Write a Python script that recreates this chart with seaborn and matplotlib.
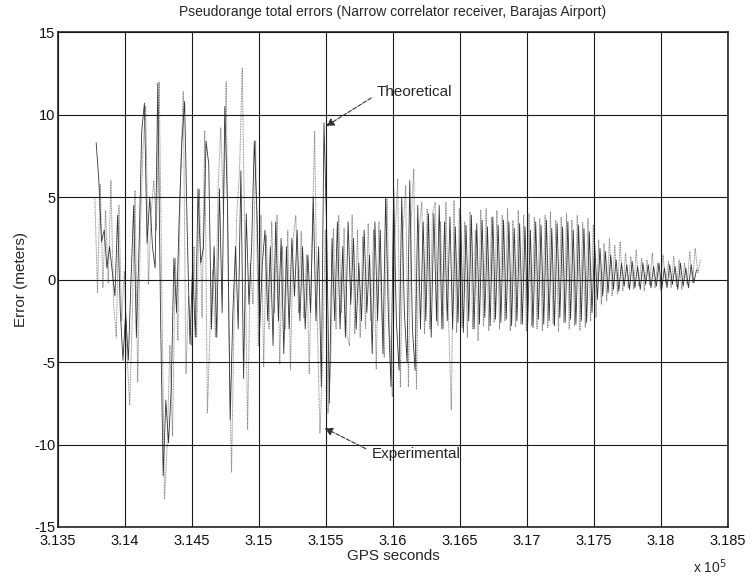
import matplotlib
matplotlib.use("Agg")
import matplotlib.pyplot as plt
import numpy as np
import pandas as pd
import seaborn as sns
from matplotlib.ticker import FuncFormatter

# ── Style ─────────────────────────────────────────────────────────────────────
sns.set_theme(style="white")
plt.rcParams["font.family"] = ["Liberation Sans", "DejaVu Sans"]
plt.rcParams["axes.unicode_minus"] = False

# ── Data ──────────────────────────────────────────────────────────────────────
T0_EXP = 313775      # first experimental epoch, GPS s
T0_THEO = 313785     # first theoretical epoch, GPS s
DT = 20              # sampling step, s

exp_err = [
    5.0, -0.8, 5.8, -0.5, 4.2, -0.2, 6.0, -1.5, -3.5, 4.5,
    -2.5, 0.5, -4.5, -7.6, -2.0, 5.4, -6.2, 3.0, 8.0, 10.5,
    -0.3, 4.0, 6.0, 3.0, 12.0, -0.5, -13.3, -10.0, -4.0, -9.5,
    1.3, -3.7, 6.5, 11.4, -5.7, -1.0, -4.0, 2.0, -3.5, 5.5,
    -2.3, 9.0, -8.1, -3.0, 0.6, -3.5, 5.5, 9.2, 4.0, 12.0,
    -2.9, -11.7, -2.0, 4.0, 6.6, 12.8, 2.0, -9.1, 1.0, -1.5,
    8.4, -4.0, 3.9, -5.3, 2.7, -3.0, 3.5, -2.0, 3.9, -5.1,
    2.0, -3.0, 3.0, -5.5, 2.5, 3.9, -2.0, 2.9, -2.3, 1.5,
    -5.7, 2.0, 9.0, -2.5, -9.3, -4.9, 3.0, -8.1, -5.0, 3.1,
    -3.0, 3.9, -2.0, 3.1, -3.3, -4.0, 3.9, -3.3, 3.0, -3.5,
    2.6, -3.0, 3.4, -2.5, 3.0, -5.4, 3.5, -2.0, -4.7, 4.9,
    -3.0, -7.1, 2.5, 6.1, -6.5, 3.0, 5.7, -6.5, 3.5, 6.7,
    -6.6, 3.0, 4.7, -3.3, 4.3, -3.0, 4.0, 4.7, -2.8, 3.5,
    -3.0, 4.7, -2.5, -7.9, 4.8, -3.2, 4.3, -2.9, 3.5, -3.5,
    4.1, -3.0, 3.0, -3.7, 4.2, -2.8, 4.3, -3.1, 3.8, -2.6,
    4.2, -3.0, 3.9, -2.5, 4.3, -3.1, 3.6, -2.9, 4.2, -2.7,
    3.9, -3.1, 4.0, -2.8, 3.8, -3.0, 3.7, -3.1, 3.9, -2.9,
    4.1, -2.7, 3.6, -3.2, 3.8, -2.6, 4.0, -3.0, 3.6, -2.8,
    3.9, -3.1, 3.5, -2.9, 3.7, -2.5, 3.3, -2.3, 2.4, -1.5,
    2.2, -1.3, 2.5, -1.0, 2.1, -0.9, 2.3, -0.7, 1.6, -0.5,
    1.4, -0.6, 1.8, -0.4, 1.3, -0.7, 1.2, -0.3, 1.6, -0.5,
    1.0, -0.6, 1.5, -0.2, 1.1, -0.5, 1.4, -0.4, 1.2, -0.6,
    1.0, -0.3, 1.7, -0.2, 1.9, 0.4, 1.2,
]

theo_err = [
    8.3, 6.0, 2.3, 3.0, 0.7, 2.0, 0.5, -1.0, 3.9, -1.9,
    -4.9, -2.0, -4.9, 0.0, 4.5, -3.5, 2.0, 9.0, 10.7, 2.2,
    5.0, 2.0, 0.7, 11.9, -2.0, -11.9, -7.3, -9.9, -6.7, 1.3,
    -2.0, 3.9, 8.4, 10.8, 2.7, -3.9, 1.0, -3.5, 5.5, 1.0,
    1.9, 8.4, 7.0, -3.0, 2.0, -3.5, 5.5, -2.0, 10.5, 4.5,
    -8.5, -2.0, 2.0, -3.0, 6.6, -6.0, 4.0, -1.5, 2.0, 8.4,
    4.0, -3.0, 1.0, 3.0, -2.5, 2.0, -4.0, 3.5, -2.5, 2.5,
    -4.5, 2.0, -3.0, 2.5, -1.0, 3.0, -2.5, 2.0, -3.0, 1.5,
    -2.0, 5.0, -2.5, 2.0, -6.5, 9.5, 3.0, -7.5, 2.5, -2.5,
    3.5, -3.0, 2.0, -3.5, 3.5, -1.5, 2.5, -3.0, 1.0, -2.5,
    3.0, -2.0, 1.5, -4.5, 3.5, -2.5, 3.0, -4.5, 5.0, -2.0,
    -6.5, 5.5, -2.5, -5.5, 5.0, -2.0, -5.0, 6.0, -3.0, -5.5,
    4.5, -3.0, 3.5, -2.5, 4.0, -3.5, 4.0, -2.5, 4.5, -3.0,
    3.5, -2.5, 3.8, -3.0, 3.2, -2.6, 3.9, -3.2, 3.3, -2.5,
    3.9, -3.0, 3.4, -2.7, 3.6, -2.3, 3.2, -2.8, 3.8, -2.4,
    3.3, -2.6, 3.6, -2.4, 3.5, -2.8, 3.1, -2.5, 3.4, -2.7,
    3.2, -2.6, 3.0, -2.9, 3.5, -2.4, 3.3, -2.7, 3.6, -2.5,
    3.1, -2.8, 3.4, -2.3, 3.2, -2.6, 3.5, -2.4, 3.0, -2.7,
    3.3, -2.5, 3.1, -2.6, 2.9, -2.0, 2.2, -1.2, 1.9, -1.0,
    1.7, -0.8, 1.5, -0.6, 1.2, -0.7, 1.0, -0.4, 0.9, -0.6,
    1.1, -0.5, 0.8, -0.6, 1.0, -0.3, 0.9, -0.5, 0.8, -0.4,
    1.0, -0.6, 0.7, -0.5, 0.9, -0.3, 0.8, -0.6, 1.0, -0.4,
    0.7, -0.5, 0.9, -0.2, 0.6,
]

X_TICKS = [313500, 314000, 314500, 315000, 315500, 316000,
           316500, 317000, 317500, 318000, 318500]
Y_TICKS = [-15, -10, -5, 0, 5, 10, 15]

exp_df = pd.DataFrame({
    "t": T0_EXP + DT * np.arange(len(exp_err)),
    "err": exp_err,
})
theo_df = pd.DataFrame({
    "t": T0_THEO + DT * np.arange(len(theo_err)),
    "err": theo_err,
})

# ── Figure ────────────────────────────────────────────────────────────────────
fig = plt.figure(figsize=(7.52, 5.76), dpi=100)
ax = fig.add_axes([0.0771, 0.0851, 0.891, 0.859])

sns.lineplot(data=exp_df, x="t", y="err", ax=ax, estimator=None,
             color="#8a8a8a", lw=0.7, linestyle=(0, (1, 0.7)))
sns.lineplot(data=theo_df, x="t", y="err", ax=ax, estimator=None,
             color="#333333", lw=0.6)

ax.set_xlim(X_TICKS[0], X_TICKS[-1])
ax.set_ylim(Y_TICKS[0], Y_TICKS[-1])
ax.set_xticks(X_TICKS)
ax.set_yticks(Y_TICKS)
ax.xaxis.set_major_formatter(FuncFormatter(lambda v, _: f"{v / 1e5:g}"))
ax.grid(True, color="#1a1a1a", lw=0.8, linestyle="-")
ax.set_axisbelow(False)
for sp in ax.spines.values():
    sp.set_color("#111111")
    sp.set_linewidth(1.1)
ax.tick_params(direction="in", length=4, labelsize=10.5, colors="#111111")
ax.tick_params(axis="x", pad=5)
ax.tick_params(axis="y", pad=2)

ax.set_xlabel("GPS seconds", fontsize=11, labelpad=1)
ax.set_ylabel("Error (meters)", fontsize=11, labelpad=4)
ax.set_title("Pseudorange total errors (Narrow correlator receiver, "
             "Barajas Airport)", fontsize=10, pad=12)
fig.text(0.966, 0.0, r"x 10$^5$", fontsize=10, ha="right", va="bottom")

arrow = dict(arrowstyle="-|>", linestyle="--", color="#333333", lw=0.8,
             mutation_scale=12)
ax.annotate("Theoretical", xy=(315500, 9.3), xytext=(315880, 11.4),
            fontsize=11, va="center", ha="left",
            arrowprops=dict(arrow, shrinkA=2, shrinkB=0,
                            relpos=(0.0, 0.3)))
ax.annotate("Experimental", xy=(315490, -9.0), xytext=(315840, -10.6),
            fontsize=11, va="center", ha="left",
            arrowprops=dict(arrow, shrinkA=2, shrinkB=0,
                            relpos=(0.0, 0.7)))

fig.savefig("out.png", dpi=100)
plt.close(fig)
